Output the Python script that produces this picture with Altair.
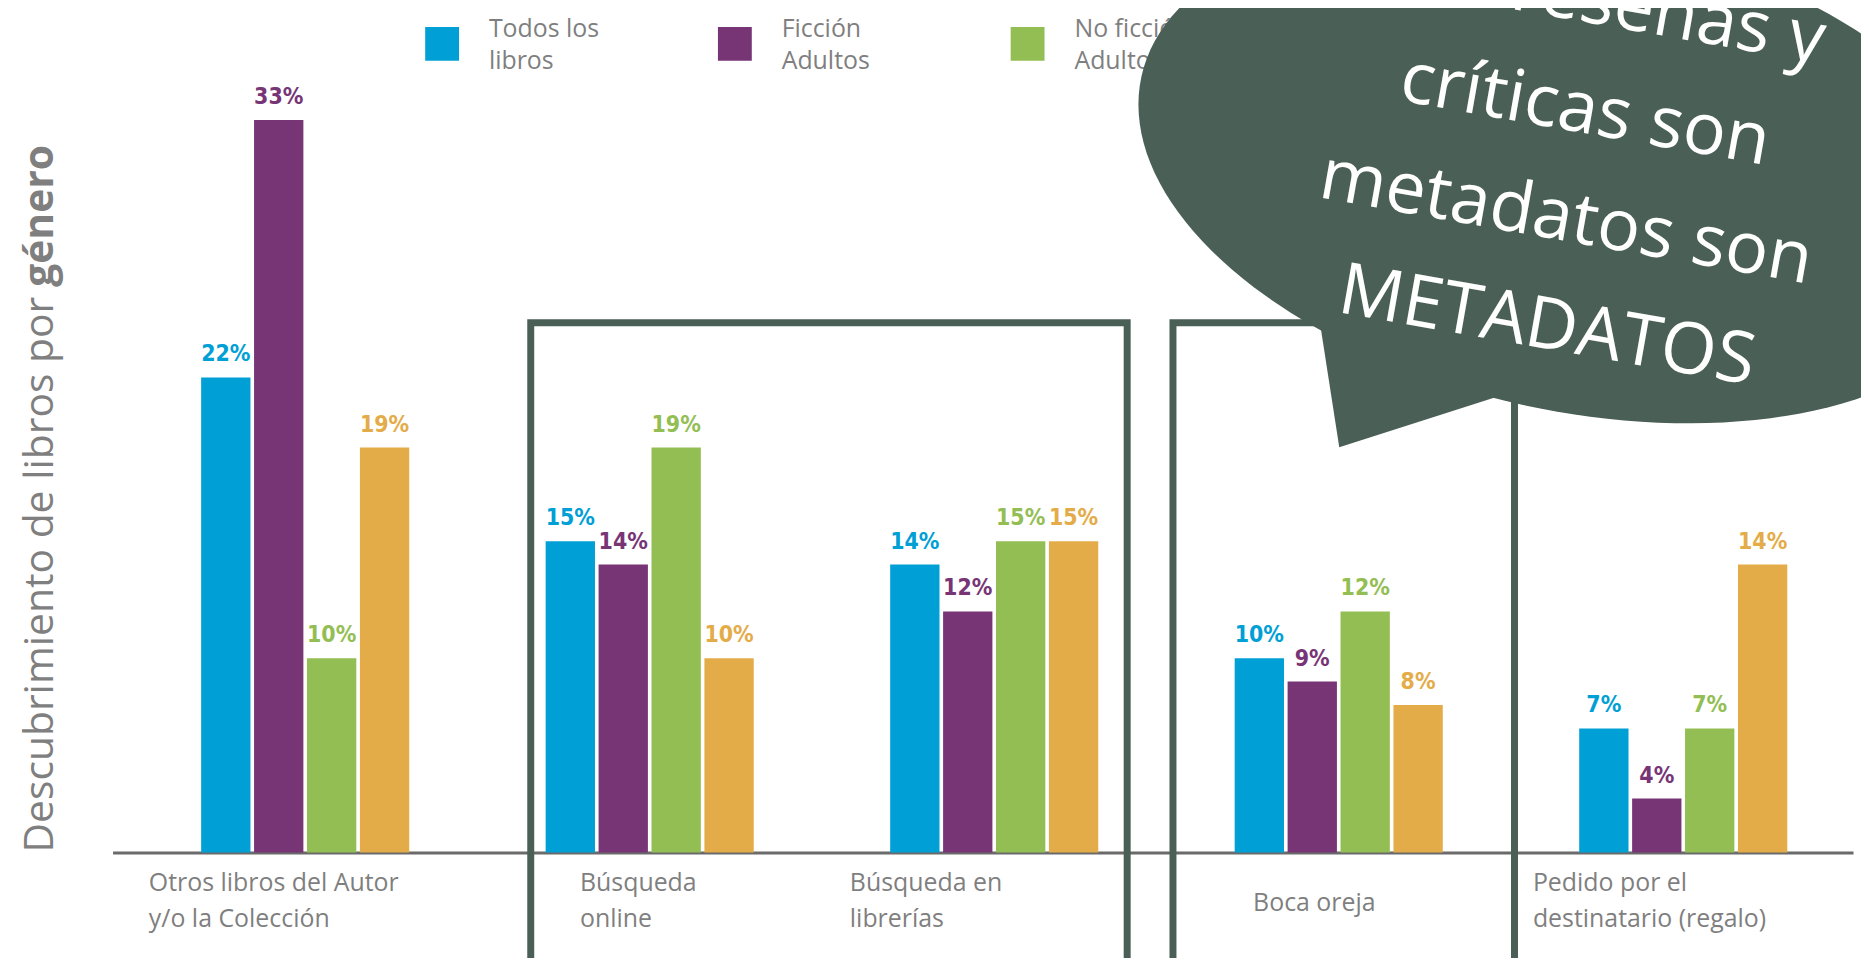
import math
import altair as alt
import pandas as pd

# ---------------- data ----------------
categories = [
    "Otros libros del Autor|y/o la Colección",
    "Búsqueda|online",
    "Búsqueda en|librerías",
    "Boca oreja",
    "Pedido por el|destinatario (regalo)",
]
series = ["Todos los libros", "Ficción Adultos", "No ficción Adultos", "Infantil y Juvenil"]
legend_lines = [["Todos los", "libros"], ["Ficción", "Adultos"], ["No ficción", "Adultos"], ["Infantil y", "Juvenil"]]
todos = [22, 15, 14, 10, 7]
ficcion = [33, 14, 12, 9, 4]
no_ficcion = [10, 19, 15, 12, 7]
infantil = [19, 10, 15, 8, 14]
colors = ["#00A0D6", "#773576", "#93BE53", "#E4AC48"]
bubble_lines = ["Las reseñas y", "críticas son", "metadatos son", "METADATOS"]
title_regular = "Descubrimiento de libros por"
title_bold = "género"

# ---------------- layout ----------------
PAD_L, PAD_T, PAD_R, PAD_B = 105, 0, 8, 104
W, H = 1748, 846
GRAY = "#7f7f7f"
DARK = "#4A5F55"


def px(x):
    return x - 113


def py(y):
    return y - 8


rows = []
for s, vals in zip(series, [todos, ficcion, no_ficcion, infantil]):
    for c, v in zip(categories, vals):
        rows.append({"cat": c, "series": s, "value": v, "label": f"{v}%"})
df = pd.DataFrame(rows)

label_offset = {
    "condition": [
        {"test": f"datum.value === '{categories[0]}'", "value": -157},
        {"test": f"datum.value === '{categories[1]}'", "value": -70},
        {"test": f"datum.value === '{categories[2]}'", "value": -145},
        {"test": f"datum.value === '{categories[3]}'", "value": -86},
    ],
    "value": -151,
}

x_enc = alt.X(
    "cat:N",
    sort=categories,
    title=None,
    scale=alt.Scale(domain=categories, paddingInner=0.396, paddingOuter=0.224, align=0.574),
    axis=alt.Axis(
        title=None,
        domainColor="#6a6a6a",
        domainWidth=3,
        ticks=False,
        tickSize=0,
        grid=False,
        labelAngle=0,
        labelFont="Open Sans",
        labelFontSize=25,
        labelColor=GRAY,
        labelExpr="split(datum.value, '|')",
        labelBaseline="top",
        labelAlign="left",
        labelLineHeight=36,
        labelLimit=500,
        labelOverlap=False,
        labelPadding={"condition": {"test": f"datum.value === '{categories[3]}'", "value": 38}, "value": 18},
        labelOffset=label_offset,
    ),
)
y_enc = alt.Y("value:Q", scale=alt.Scale(domain=[1.70, 37.70], nice=False, zero=False), axis=None)
xoff_enc = alt.XOffset("series:N", sort=series, scale=alt.Scale(domain=series, paddingInner=0.068, paddingOuter=0))
color_enc = alt.Color("series:N", scale=alt.Scale(domain=series, range=colors), legend=None)

base = alt.Chart(df)
bars = base.mark_bar(clip=True).encode(x=x_enc, xOffset=xoff_enc, y=y_enc, color=color_enc)
vlabels = base.mark_text(
    font="Liberation Sans Narrow, Arial Narrow, DejaVu Sans Condensed, sans-serif",
    fontSize=23,
    fontWeight="bold",
    baseline="alphabetic",
    dy=-16,
).encode(x=x_enc, xOffset=xoff_enc, y=y_enc, text="label:N", color=color_enc)
bar_layer = alt.layer(bars, vlabels)

# ---------------- legend ----------------
leg_df = pd.DataFrame({"idx": [0, 1, 2, 3], "series": series, "lines": legend_lines})
lx0, lstep = px(444), 294.0
leg_x = alt.X("idx:Q", scale=alt.Scale(domain=[-lx0 / lstep, (W - lx0) / lstep], nice=False, zero=False), axis=None)
leg_sq = alt.Chart(leg_df).mark_square(size=34 * 34, opacity=1).encode(
    x=leg_x, y=alt.value(py(42)), color=color_enc
)
leg_tx = alt.Chart(leg_df).mark_text(
    align="left", baseline="top", dx=47, font="Open Sans", fontSize=25, lineHeight=32, color=GRAY
).encode(x=leg_x, y=alt.value(py(15)), text="lines:N")
legend_layer = alt.layer(leg_sq, leg_tx)

one = alt.Data(values=[{}])


def box(x0, x1, y0, y1):
    return alt.Chart(one).mark_rect(filled=False, stroke=DARK, strokeWidth=7).encode(
        x=alt.value(px(x0)), x2=alt.value(px(x1)), y=alt.value(py(y0)), y2=alt.value(py(y1))
    )


box1 = box(533, 1132, 322, 990)
box2 = box(1178, 1521, 322, 990)

title_r = alt.Chart(one).mark_text(
    text=title_regular, angle=270, align="right", baseline="alphabetic",
    font="Open Sans", fontSize=41, color=GRAY,
).encode(x=alt.value(px(53)), y=alt.value(py(296)))
title_b = alt.Chart(one).mark_text(
    text=title_bold, angle=270, align="left", baseline="alphabetic",
    font="Open Sans", fontSize=41, fontWeight="bold", color=GRAY,
).encode(x=alt.value(px(53)), y=alt.value(py(286)))

# ---------------- speech bubble ----------------
S = 500.0
CX, CY = 1580.0, 170.0
A_, B_, TH = 444.0, 240.0, math.radians(12.4)
pts = []
for i in range(160):
    t = 2 * math.pi * i / 160
    u, v = A_ * math.cos(t), B_ * math.sin(t)
    pts.append(((u * math.cos(TH) - v * math.sin(TH)) / S, (u * math.sin(TH) + v * math.cos(TH)) / S))
ell_path = "M" + " L".join(f"{x:.4f},{y:.4f}" for x, y in pts) + " Z"
tail = [(1320 - CX, 286 - CY), (1345 - CX, 447 - CY), (1555 - CX, 380 - CY)]
tail_path = "M" + " L".join(f"{x / S:.4f},{y / S:.4f}" for x, y in tail) + " Z"

bub_e = alt.Chart(one).mark_point(
    shape=ell_path, size=(2 * S) ** 2, filled=True, opacity=1, color=DARK, strokeWidth=0
).encode(x=alt.value(px(CX)), y=alt.value(py(CY)))
bub_t = alt.Chart(one).mark_point(
    shape=tail_path, size=(2 * S) ** 2, filled=True, opacity=1, color=DARK, strokeWidth=0
).encode(x=alt.value(px(CX)), y=alt.value(py(CY)))

ang = 10.0
texts = []
for k, line in enumerate(bubble_lines):
    off = (k - 1.5) * 110.0
    tx = 1582.5 - math.sin(math.radians(ang)) * off
    ty = 163.5 + math.cos(math.radians(ang)) * off
    texts.append(
        alt.Chart(one).mark_text(
            text=line, angle=ang, align="center", baseline="middle",
            font="Open Sans", fontSize=72, color="white",
        ).encode(x=alt.value(px(tx)), y=alt.value(py(ty)))
    )

chart = (
    alt.layer(bar_layer, box1, box2, legend_layer, title_r, title_b, bub_e, bub_t, *texts)
    .resolve_scale(x="independent")
    .properties(
        width=W,
        height=H,
        padding={"left": PAD_L, "top": PAD_T, "right": PAD_R, "bottom": PAD_B},
        autosize="none",
        background="white",
    )
    .configure_view(strokeWidth=0)
)

chart.save("out.html", embed_options={"renderer": "svg", "actions": False})
